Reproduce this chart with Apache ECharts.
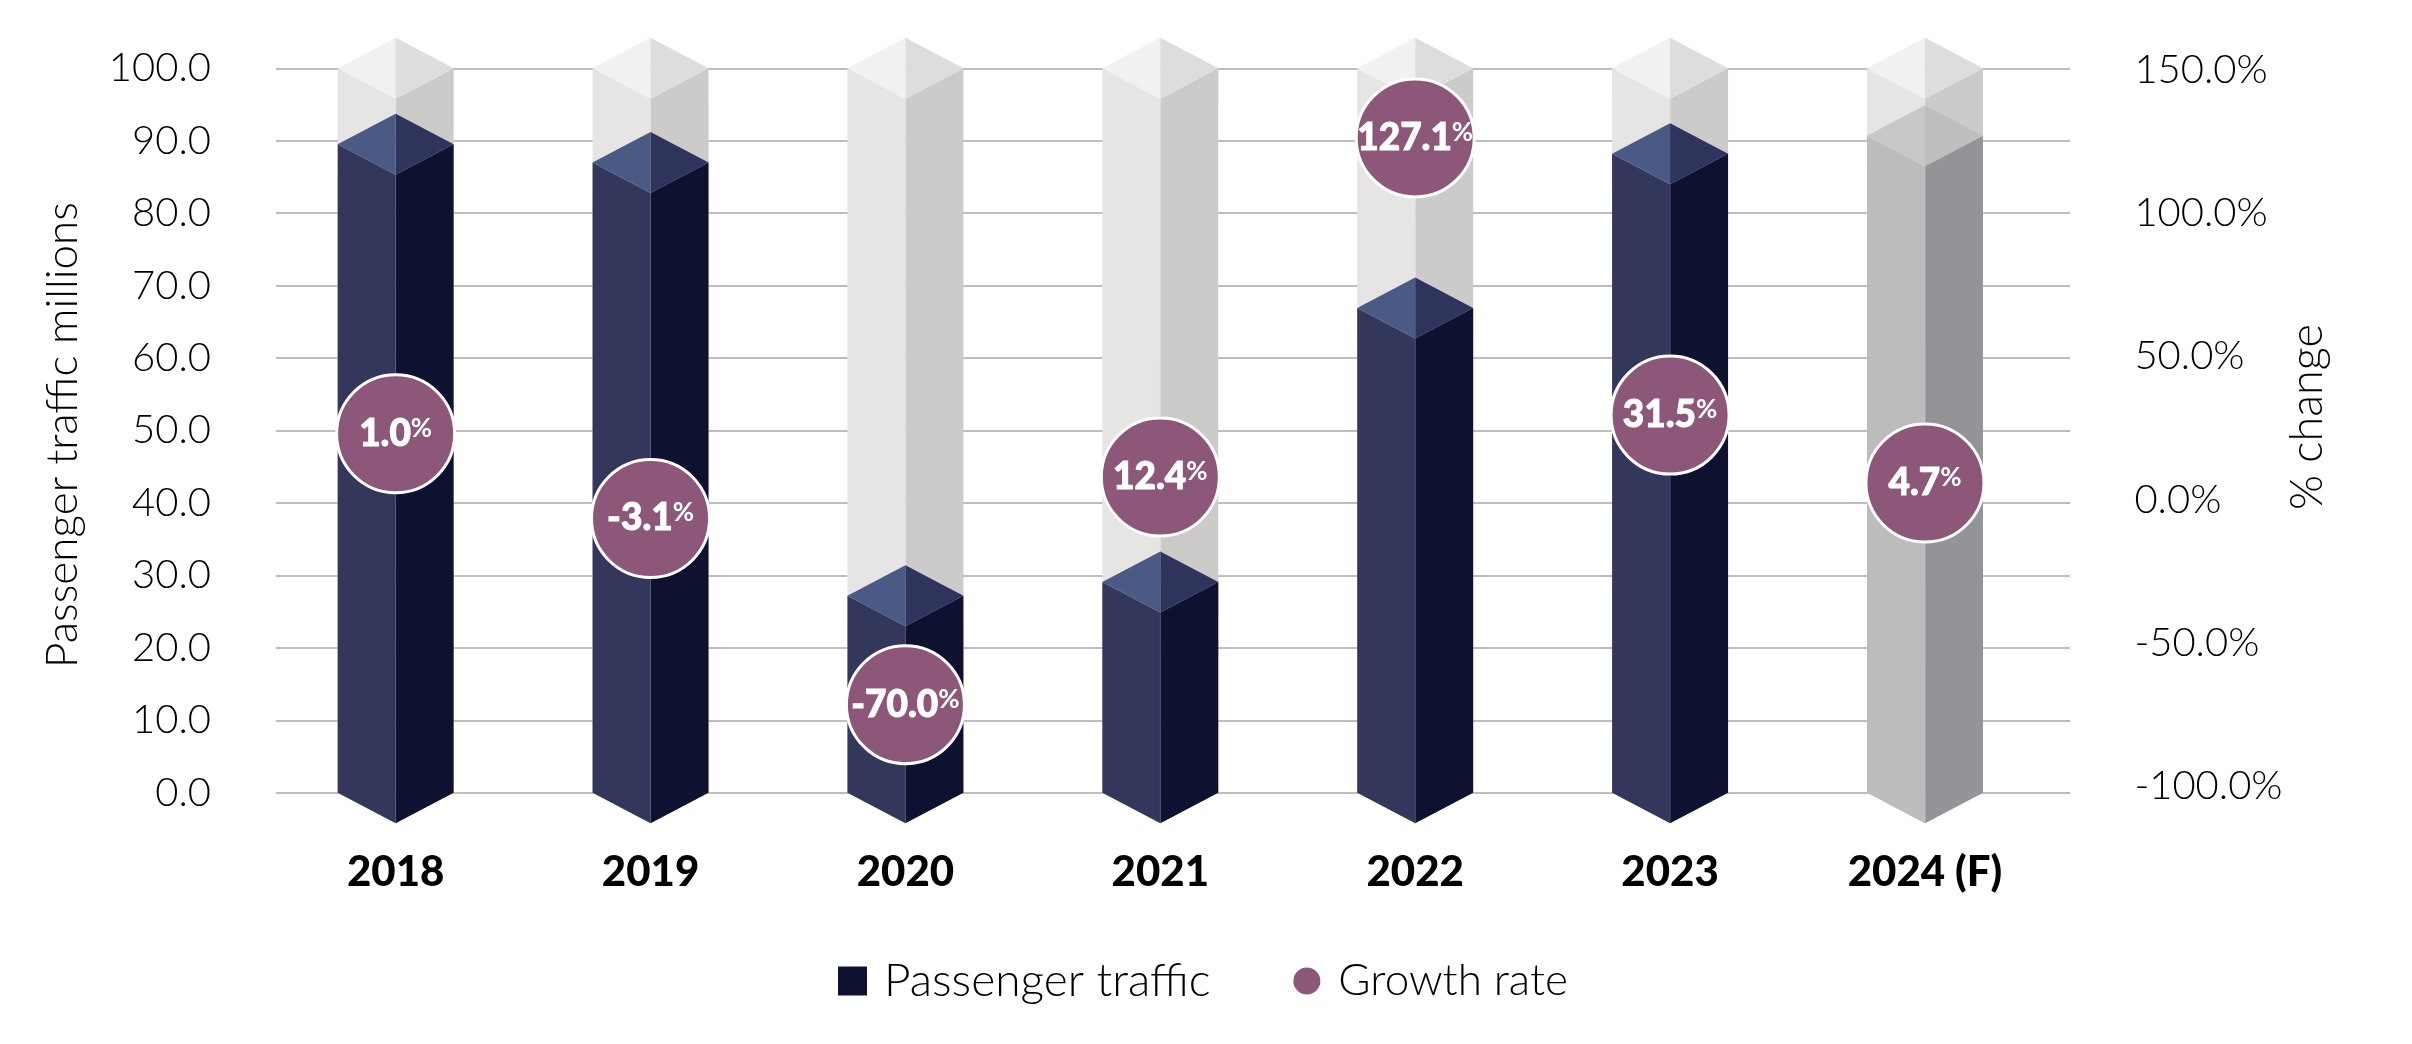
<!DOCTYPE html>
<html><head><meta charset="utf-8">
<style>html,body{margin:0;padding:0;background:#fff}#c{width:2412px;height:1044px}</style>
<script src="https://cdn.jsdelivr.net/npm/echarts@6/dist/echarts.min.js"></script>
</head><body><div id="c"></div>
<script>
const categories = ['2018','2019','2020','2021','2022','2023','2024 (F)'];
const passengerTraffic = [89.5, 87.0, 27.2, 29.1, 66.9, 88.2, 90.7];
const capacityBackdrop = [100, 100, 100, 100, 100, 100, 100];
const growthHeights = [23.0, -6.6, -71.6, 7.9, 126.3, 29.5, 5.8];
const growthLabels = ['1.0', '-3.1', '-70.0', '12.4', '127.1', '31.5', '4.7'];
const leftTicks = {min: 0, max: 100, interval: 10};
const rightTicks = {min: -100, max: 150, interval: 50};

const FONT = 'Lato';
const ghostFaces = {left:'#e6e5e3', right:'#cccbc9', topL:'#f0f1f2', topR:'#dedddb', edge:'#e6e5e3'};
const darkFaces = {left:'#33375c', right:'#0e1130', topL:'#4a5a85', topR:'#2f345c', edge:'#5a5f80'};
const fcstFaces = {left:'#bcbcbc', right:'#939497', topL:'#c9c8c6', topR:'#bfbebe', edge:'#d0d0d0'};

function prism(faces) {
  return function (params, api) {
    const idx = params.dataIndex;
    const f = typeof faces === 'function' ? faces(idx) : faces;
    const base = api.coord([api.value(0), 0]);
    const top = api.coord([api.value(0), api.value(1)]);
    const hw = api.size([1, 0])[0] * 0.2275;
    const d = 30.5;
    const x = base[0];
    const poly = (pts, fill) => ({type:'polygon', shape:{points:pts}, style:{fill: fill}});
    return {type:'group', children:[
      poly([[x-hw,top[1]],[x,top[1]+d],[x,base[1]+d],[x-hw,base[1]]], f.left),
      poly([[x+hw,top[1]],[x,top[1]+d],[x,base[1]+d],[x+hw,base[1]]], f.right),
      poly([[x-hw,top[1]],[x,top[1]-d],[x,top[1]+d]], f.topL),
      poly([[x+hw,top[1]],[x,top[1]-d],[x,top[1]+d]], f.topR),
      {type:'line', shape:{x1:x,y1:top[1]+d,x2:x,y2:base[1]+d}, style:{stroke:f.edge, lineWidth:1, opacity:.6}}
    ]};
  };
}

const chart = echarts.init(document.getElementById('c'), null, {renderer:'canvas'});
chart.setOption({
  animation:false,
  backgroundColor:'#fff',
  textStyle:{fontFamily:FONT},
  grid:[
    {left:276, right:342, top:68.3, bottom:251.3},
    {left:268.2, right:359.6, top:68.3, bottom:251.3},
    {left:268.2, right:359.6, top:70, bottom:258}
  ],
  xAxis:[
    {gridIndex:0, type:'category', data:categories, show:false},
    {gridIndex:1, type:'category', data:categories, axisLine:{show:false}, axisTick:{show:false},
      axisLabel:{color:'#000', fontFamily:FONT, fontWeight:900, fontSize:42, margin:59}},
    {gridIndex:2, type:'category', data:categories, show:false}
  ],
  yAxis:[
    {gridIndex:0, type:'value', min:leftTicks.min, max:leftTicks.max, interval:leftTicks.interval,
      name:'Passenger traffic millions', nameLocation:'middle', nameRotate:90, nameGap:191, nameMoveOverlap:false,
      nameTextStyle:{color:'#000', fontFamily:FONT, fontWeight:300, fontSize:44, padding:[0,9,0,0]},
      axisLine:{show:false}, axisTick:{show:false},
      axisLabel:{color:'#000', fontFamily:FONT, fontWeight:300, fontSize:40, margin:65, padding:[6,0,0,0],
        verticalAlign:'middle', lineHeight:46, formatter:v=>v.toFixed(1)},
      splitLine:{show:true, lineStyle:{color:'#a8a8a8', width:1.5}}},
    {gridIndex:1, type:'value', min:leftTicks.min, max:leftTicks.max, show:false, splitLine:{show:false}},
    {gridIndex:2, type:'value', position:'right', min:rightTicks.min, max:rightTicks.max, interval:rightTicks.interval,
      name:'% change', nameLocation:'middle', nameRotate:90, nameGap:233, nameMoveOverlap:false,
      nameTextStyle:{color:'#000', fontFamily:FONT, fontWeight:300, fontSize:45, padding:[0,0,0,22]},
      axisLine:{show:false}, axisTick:{show:false}, splitLine:{show:false},
      axisLabel:{color:'#000', fontFamily:FONT, fontWeight:300, fontSize:40, margin:82, align:'left', padding:[2,0,0,0],
        formatter:v=>v.toFixed(1)+'%'}}
  ],
  legend:{
    left:833, top:953, itemWidth:29, itemHeight:29, itemGap:81, icon:'rect',
    textStyle:{color:'#000', fontFamily:FONT, fontWeight:300, fontSize:45, padding:[0,0,0,12]},
    data:[
      {name:'Passenger traffic', icon:'rect', itemStyle:{color:'#0e1130'}, textStyle:{fontSize:46}},
      {name:'Growth rate', icon:'circle', itemStyle:{color:'#8c5778'}, textStyle:{fontSize:44}}
    ]
  },
  series:[
    {name:'Backdrop', type:'custom', xAxisIndex:1, yAxisIndex:1, z:2,
      data:capacityBackdrop.map((v,i)=>[i,v]), renderItem:prism(ghostFaces), encode:{x:0,y:1}},
    {name:'Passenger traffic', type:'custom', xAxisIndex:1, yAxisIndex:1, z:3,
      data:passengerTraffic.map((v,i)=>[i,v]), itemStyle:{color:'#0e1130'},
      renderItem:prism(i=>categories[i].includes('(F)')?fcstFaces:darkFaces), encode:{x:0,y:1}},
    {name:'Growth rate', type:'scatter', xAxisIndex:2, yAxisIndex:2, z:5, symbol:'circle', symbolSize:118, clip:false,
      data:growthHeights.map((v,i)=>[i,v]),
      itemStyle:{color:'#8c5778', borderColor:'#fff', borderWidth:3, opacity:1},
      label:{show:true, position:'inside',
        formatter:p=>'{n|'+growthLabels[p.dataIndex]+'}{p|%}',
        rich:{
          n:{color:'#fff', fontFamily:FONT, fontWeight:900, fontSize:37, textBorderColor:'#fff', textBorderWidth:1},
          p:{color:'#fff', fontFamily:FONT, fontWeight:700, fontSize:26, verticalAlign:'top', padding:[0,0,8,0]}
        }}}
  ]
});
</script></body></html>
